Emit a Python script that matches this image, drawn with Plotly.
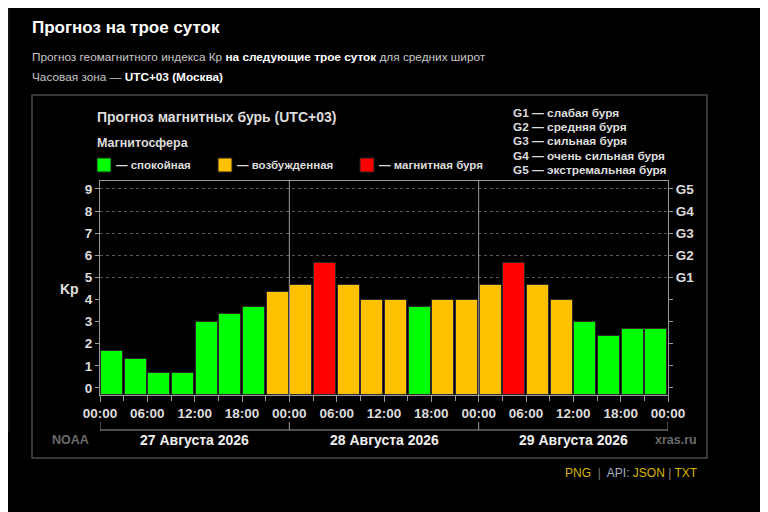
import plotly.graph_objects as go

# Прогноз Kp по трёхчасовым интервалам (UTC+03)
DAYS = ["27 Августа 2026", "28 Августа 2026", "29 Августа 2026"]
SLOT_LABELS = ["00:00", "06:00", "12:00", "18:00"]
KP = [1.67, 1.33, 0.67, 0.67, 3.00, 3.33, 3.67, 4.33,
      4.67, 5.67, 4.67, 4.00, 4.00, 3.67, 4.00, 4.00,
      4.67, 5.67, 4.67, 4.00, 3.00, 2.33, 2.67, 2.67]
KP_TICKS = [0, 1, 2, 3, 4, 5, 6, 7, 8, 9]
G_LEVELS = [5, 6, 7, 8, 9]
G_LABELS = ["G1", "G2", "G3", "G4", "G5"]
G_LEGEND = ["G1 — слабая буря", "G2 — средняя буря", "G3 — сильная буря",
            "G4 — очень сильная буря", "G5 — экстремальная буря"]
LEVEL_NAMES = ["— спокойная", "— возбужденная", "— магнитная буря"]
LEVEL_COLORS = ["#00ff00", "#ffc000", "#ff0000"]

FONT = "Liberation Sans, Arial, sans-serif"
Y_MIN, Y_MAX = -0.32, 9.36
SLOT_H = 3
hours = [i * SLOT_H for i in range(len(KP))]
centers = [h + SLOT_H / 2 for h in hours]
day_edges = [d * 24 for d in range(len(DAYS) + 1)]
x_ticks = list(range(0, 24 * len(DAYS) + 1, 6))
x_text = [SLOT_LABELS[(t // 6) % 4] for t in x_ticks]


def level_color(k):
    if k >= 5:
        return LEVEL_COLORS[2]
    if k >= 4:
        return LEVEL_COLORS[1]
    return LEVEL_COLORS[0]


# страница сдвигает рисунок на 8px; координаты ниже - в пикселях экрана
OFF = 8
W, H = 768 - OFF, 512 - OFF
L, R, T, B = 100, 668, 181, 395


def px(x, y):
    return (x - L) / (R - L), (B - y) / (B - T)


fig = go.Figure()
fig.add_trace(go.Bar(
    x=centers, y=[k - Y_MIN for k in KP], base=Y_MIN,
    width=SLOT_H * 0.93,
    marker=dict(color=[level_color(k) for k in KP], line=dict(color="#2a2a2a", width=1)),
    showlegend=False, hoverinfo="skip",
))
# пустой след для правой оси (G-шкала)
fig.add_trace(go.Scatter(x=centers, y=KP, yaxis="y2", mode="none",
                         showlegend=False, hoverinfo="skip"))

shapes = []
# вертикальные линии между сутками
for e in day_edges[1:-1]:
    shapes.append(dict(type="line", xref="x", yref="paper", x0=e, x1=e, y0=0, y1=1,
                       line=dict(color="#9a9a9a", width=1), layer="above"))
# скобка с датами
yb = px(0, 430)[1]
ybt = px(0, 422)[1]
shapes.append(dict(type="line", xref="x", yref="paper", x0=day_edges[0], x1=day_edges[-1],
                   y0=yb, y1=yb, line=dict(color="#9a9a9a", width=1)))
for e in day_edges:
    shapes.append(dict(type="line", xref="x", yref="paper", x0=e, x1=e, y0=yb, y1=ybt,
                       line=dict(color="#9a9a9a", width=1)))
# внешняя рамка
x0, y0 = px(32, 458)
x1, y1 = px(707, 95)
shapes.append(dict(type="rect", xref="paper", yref="paper", x0=x0, x1=x1, y0=y0, y1=y1,
                   line=dict(color="#4a4a4a", width=1.5)))
# бледная линия слева
lx, ly0 = px(9, 432)
_, ly1 = px(9, 8)
shapes.append(dict(type="line", xref="paper", yref="paper", x0=lx, x1=lx, y0=ly0, y1=ly1,
                   line=dict(color="#222222", width=1)))

annotations = []


def text(x, y, s, size=12, color="#dddddd", bold=True, anchor="left"):
    ax, ay = px(x, y)
    annotations.append(dict(xref="paper", yref="paper", x=ax, y=ay, text=s,
                            showarrow=False, xanchor=anchor, yanchor="middle",
                            font=dict(family=FONT, size=size, color=color,
                                      weight="bold" if bold else "normal")))


text(30, 27, "Прогноз на трое суток", size=17, color="#ffffff")
text(30, 57, "Прогноз геомагнитного индекса Кр <b style='color:#fff'>на следующие трое суток</b>"
             " для средних широт", size=11.8, color="#c8c8c8", bold=False)
text(30, 77, "Часовая зона — <b style='color:#fff'>UTC+03 (Москва)</b>",
     size=11.8, color="#c8c8c8", bold=False)

text(95, 117, "Прогноз магнитных бурь (UTC+03)", size=14)
text(95, 143, "Магнитосфера", size=12.5)
for i, (name, col) in enumerate(zip(LEVEL_NAMES, LEVEL_COLORS)):
    sx = [97, 218, 360][i]
    qx0, qy0 = px(sx, 172)
    qx1, qy1 = px(sx + 14, 158)
    shapes.append(dict(type="rect", xref="paper", yref="paper", x0=qx0, x1=qx1, y0=qy0, y1=qy1,
                       fillcolor=col, line=dict(color="#222", width=1)))
    text(sx + 17, 165, name, size=11.5)
for i, s in enumerate(G_LEGEND):
    text(511, 113 + i * 14.2, s, size=11.8)

text(50, 440, "NOAA", size=12.5, color="#6a6a6a")
text(653, 440, "xras.ru", size=12.5, color="#6a6a6a")
for d, name in enumerate(DAYS):
    cx = (day_edges[d] + day_edges[d + 1]) / 2
    annotations.append(dict(xref="x", yref="paper", x=cx, y=px(0, 440)[1], text=name,
                            showarrow=False, xanchor="center", yanchor="middle",
                            font=dict(family=FONT, size=14, color="#f0f0f0", weight="bold")))
text(58, 289, "Kp", size=14, color="#e0e0e0")
text(700, 473, "<span style='color:#d8b400'>PNG</span>  <span style='color:#777'>|</span>  "
               "<span style='color:#a8b0c0'>API:</span> <span style='color:#d8b400'>JSON</span>"
               " <span style='color:#888'>|</span> <span style='color:#d8b400'>TXT</span>",
     size=12, bold=False, anchor="right")

axis_font = dict(family=FONT, size=13.5, color="#dddddd", weight="bold")
fig.update_layout(
    width=W, height=H,
    margin=dict(l=L - OFF, r=OFF + W - R, t=T - OFF, b=OFF + H - B),
    paper_bgcolor="#000000", plot_bgcolor="#000000",
    bargap=0,
    xaxis=dict(range=[day_edges[0], day_edges[-1]], tickvals=x_ticks, ticktext=x_text,
               ticks="outside", ticklen=6, tickcolor="#9a9a9a", tickfont=axis_font,
               minor=dict(dtick=SLOT_H, tick0=0, ticks="outside", ticklen=5, tickcolor="#9a9a9a"),
               showline=True, linecolor="#9a9a9a", mirror=True, showgrid=False, zeroline=False,
               fixedrange=True),
    yaxis=dict(range=[Y_MIN, Y_MAX], tickvals=KP_TICKS, ticks="outside", ticklen=4,
               tickcolor="#9a9a9a", tickfont=axis_font, showline=True, linecolor="#9a9a9a",
               showgrid=False, zeroline=False, fixedrange=True),
    yaxis2=dict(range=[Y_MIN, Y_MAX], overlaying="y", side="right", tickvals=G_LEVELS,
                ticktext=G_LABELS, ticks="outside", ticklen=4, tickcolor="#9a9a9a",
                tickfont=axis_font, showline=True, linecolor="#9a9a9a",
                showgrid=True, gridcolor="#555555", griddash="dot", gridwidth=1,
                minor=dict(tickvals=KP_TICKS, ticks="outside", ticklen=4, tickcolor="#9a9a9a"),
                zeroline=False, fixedrange=True),
    shapes=shapes, annotations=annotations, showlegend=False,
)

fig.write_html("out.html")
